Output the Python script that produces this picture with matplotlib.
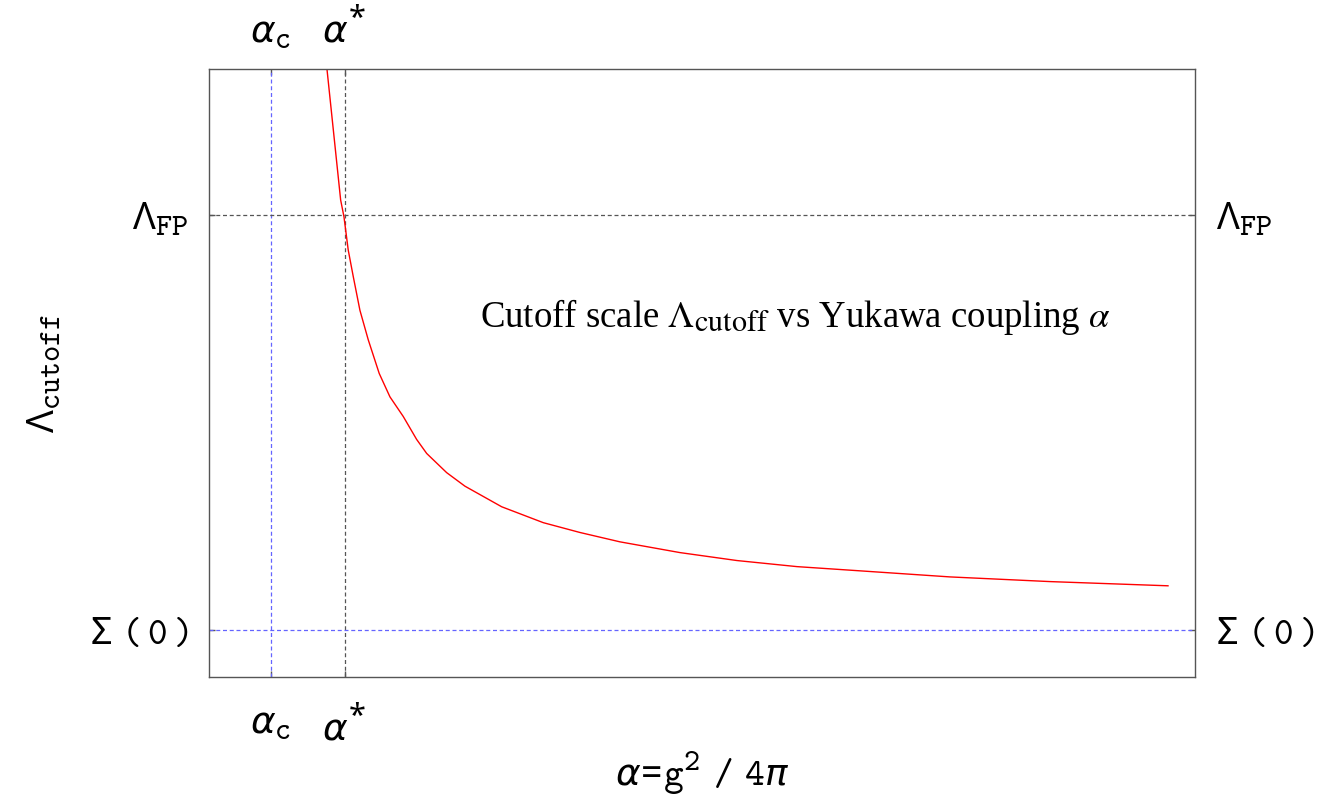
import matplotlib
matplotlib.use("Agg")
import matplotlib.pyplot as plt
import matplotlib._mathtext as mtext

# Mathematica-style labels: typewriter text, thin sans Greek
plt.rcParams['mathtext.fontset'] = 'custom'
plt.rcParams['mathtext.rm'] = 'Noto Sans'
plt.rcParams['mathtext.it'] = 'DejaVu Sans:italic'
plt.rcParams['mathtext.tt'] = 'cmtt10'
plt.rcParams['font.family'] = ['DejaVu Sans']
# sub/superscripts in the original are barely shrunk
mtext.SHRINK_FACTOR = 0.82

# Reference values (arbitrary units)
alpha_c = 0.10       # critical coupling
alpha_star = 0.22    # fixed point coupling
lambda_fp = 9.88     # Lambda_FP
sigma0 = 1.0         # Sigma(0)

# Cutoff curve
alpha_vals = [0.1858, 0.1915, 0.2137, 0.2191, 0.2260, 0.2342, 0.2450, 0.2585,
              0.2763, 0.2937, 0.3153, 0.3370, 0.3533, 0.3857, 0.4154, 0.4750,
              0.5425, 0.6020, 0.6669, 0.7643, 0.8568, 0.9542, 1.0564, 1.2024,
              1.3647, 1.5562]
lambda_vals = [13.62, 13.00, 10.20, 9.84, 9.13, 8.56, 7.84, 7.21,
               6.49, 5.99, 5.57, 5.08, 4.78, 4.37, 4.08, 3.64,
               3.30, 3.09, 2.89, 2.66, 2.49, 2.36, 2.27, 2.14,
               2.04, 1.95]

xtick_labels = [r'$\alpha_{\mathtt{c}}$', r'$\alpha^{*}$']
ytick_labels = [r'$\Sigma\;\mathtt{(}\,\mathtt{0}\,\mathtt{)}$', r'$\Lambda_{\mathtt{FP}}$']

fig = plt.figure(figsize=(13.3, 7.99), dpi=100)
ax = fig.add_axes([0.1571, 0.1527, 0.7414, 0.7609])

gray = "#555555"
blue = "#6464ff"

ax.axvline(alpha_c, color=blue, lw=0.9, dashes=(3.2, 2.2))
ax.axvline(alpha_star, color=gray, lw=0.9, dashes=(3.2, 2.2))
ax.axhline(lambda_fp, color=gray, lw=0.9, dashes=(3.2, 2.2))
ax.axhline(sigma0, color=blue, lw=0.9, dashes=(3.2, 2.2))

ax.plot(alpha_vals, lambda_vals, color="red", lw=1.0)

ax.set_xlim(0, 1.6)
ax.set_ylim(0, 13)

for s in ax.spines.values():
    s.set_color(gray)
    s.set_linewidth(1.0)

ax.set_xticks([alpha_c, alpha_star])
ax.set_xticklabels(xtick_labels)
ax.set_yticks([sigma0, lambda_fp])
ax.set_yticklabels(ytick_labels)
ax.tick_params(axis='both', direction='in', length=4, width=1.0, color=gray,
               top=True, right=True, labeltop=True, labelright=True,
               labelsize=27)
ax.tick_params(axis='x', pad=13)
ax.tick_params(axis='y', pad=15)

# bottom labels sit a little further from the frame than the top ones
for t in ax.xaxis.get_major_ticks():
    t.label1.set_y(-0.018)

ax.set_xlabel(r'$\alpha\!=\!\mathtt{g}^{\mathtt{2}}\mathtt{\ /\ 4}\pi$', fontsize=27)
ax.xaxis.set_label_coords(0.5, -0.12)
ax.set_ylabel(r'$\Lambda_{\mathtt{cutoff}}$', fontsize=27)
ax.yaxis.set_label_coords(-0.148, 0.5)

ax.text(0.275, 0.576,
        r'Cutoff scale $\Lambda_{\mathrm{cutoff}}$ vs Yukawa coupling $\alpha$',
        transform=ax.transAxes, ha='left', va='baseline', fontsize=26.5,
        family='Liberation Serif', math_fontfamily='stix')

fig.savefig("out.png", dpi=100)
